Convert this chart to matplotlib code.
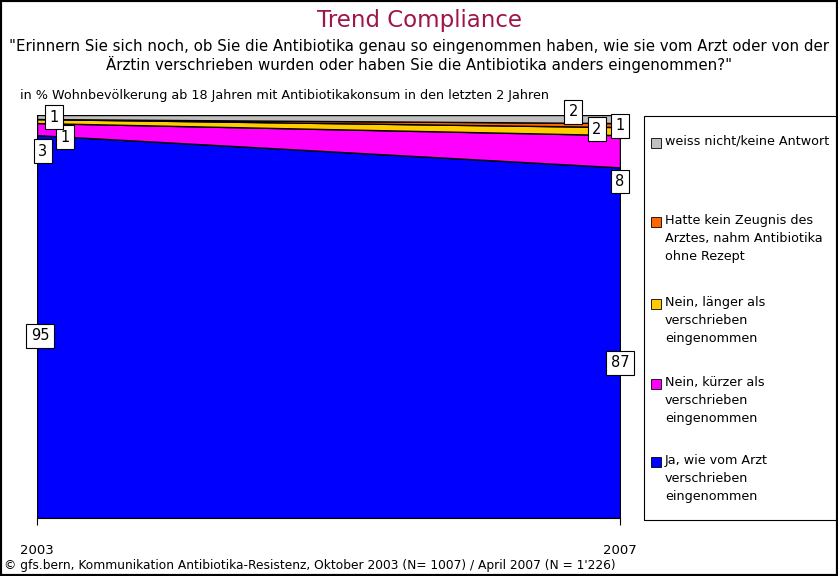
import matplotlib.pyplot as plt
import numpy as np
from matplotlib.patches import Rectangle

# Daten
jahre = [2003, 2007]
ja = [95, 87]
kuerzer = [3, 8]
laenger = [1, 2]
kein_zeugnis = [0, 1]
weiss_nicht = [1, 2]

serien = [ja, kuerzer, laenger, kein_zeugnis, weiss_nicht]
namen = ["Ja, wie vom Arzt\nverschrieben\neingenommen",
         "Nein, kürzer als\nverschrieben\neingenommen",
         "Nein, länger als\nverschrieben\neingenommen",
         "Hatte kein Zeugnis des\nArztes, nahm Antibiotika\nohne Rezept",
         "weiss nicht/keine Antwort"]
farben = ["#0000FF", "#FF00FF", "#FFCC00", "#FF6600", "#C0C0C0"]

plt.rcParams['font.family'] = ['DejaVu Sans']
fig = plt.figure(figsize=(8.38, 5.76), dpi=100)
fig.patches.append(Rectangle((0, 0), 1, 1, transform=fig.transFigure,
                             fill=False, ec="black", lw=3))

ax = fig.add_axes([37/838, 1-518/576, (620-37)/838, (518-115)/576])
ax.stackplot(jahre, *serien, colors=farben, edgecolor="black", lw=1)
ax.set_xlim(2003, 2007)
ax.set_ylim(0, 100)
ax.set_yticks([])
for s in ["left", "right", "top"]:
    ax.spines[s].set_visible(False)
ax.spines["bottom"].set_color("black")
ax.set_xticks(jahre)
ax.set_xticklabels([str(j) for j in jahre], fontsize=9.5)
ax.tick_params(axis="x", length=5, pad=14)

box = dict(boxstyle="square,pad=0.3", fc="white", ec="black", lw=0.8)
fs = 10.5
cum = np.cumsum(np.array(serien), axis=0)
# Beschriftungen 2003
ax.text(2003.02, ja[0]/2 - 2.3, str(ja[0]), ha="center", va="center", fontsize=fs, bbox=box)
ax.text(2003.04, cum[0][0] - 4, str(kuerzer[0]), ha="center", va="center", fontsize=fs, bbox=box)
ax.text(2003.19, cum[1][0] - 3.5, str(laenger[0]), ha="center", va="center", fontsize=fs, bbox=box)
ax.text(2003.12, cum[4][0] - 0.5, str(weiss_nicht[0]), ha="center", va="center", fontsize=fs, bbox=box)
# Beschriftungen 2007
ax.text(2007, ja[1]/2 - 5, str(ja[1]), ha="center", va="center", fontsize=fs, bbox=box)
ax.text(2007, cum[0][1] - 3.5, str(kuerzer[1]), ha="center", va="center", fontsize=fs, bbox=box)
ax.text(2007, cum[3][1] - 0.7, str(kein_zeugnis[1]), ha="center", va="center", fontsize=fs, bbox=box)
ax.text(2006.84, cum[3][1] - 1.5, str(laenger[1]), ha="center", va="center", fontsize=fs, bbox=box)
ax.text(2006.68, cum[4][1] + 0.8, str(weiss_nicht[1]), ha="center", va="center", fontsize=fs, bbox=box)

# Titel
fig.text(0.5, 1-20/576, "Trend Compliance", ha="center", va="center",
         fontsize=16.5, color="#A0144A")
fig.text(0.5, 1-56/576,
         "\"Erinnern Sie sich noch, ob Sie die Antibiotika genau so eingenommen haben, wie sie vom Arzt oder von der\n"
         "Ärztin verschrieben wurden oder haben Sie die Antibiotika anders eingenommen?\"",
         ha="center", va="center", fontsize=10.8, linespacing=1.15)
fig.text(20/838, 1-96/576,
         "in % Wohnbevölkerung ab 18 Jahren mit Antibiotikakonsum in den letzten 2 Jahren",
         ha="left", va="center", fontsize=9.2)
fig.text(4/838, 1-566/576,
         "© gfs.bern, Kommunikation Antibiotika-Resistenz, Oktober 2003 (N= 1007) / April 2007 (N = 1'226)",
         ha="left", va="center", fontsize=8.8)

# Legende
fig.patches.append(Rectangle((644/838, 1-520/576), 200/838, (520-116)/576,
                             transform=fig.transFigure, fill=False, ec="black", lw=0.8))
leg_y = [461, 383, 303, 221, 142]
for name, farbe, y in zip(namen, farben, leg_y):
    fig.patches.append(Rectangle((651/838, 1-(y+6)/576), 10/838, 10/576,
                                 transform=fig.transFigure, fc=farbe, ec="black", lw=0.6))
    fig.text(665/838, 1-(y - 7)/576, name, ha="left", va="top", fontsize=9.2, linespacing=1.5)

fig.savefig("out.png", dpi=100)
